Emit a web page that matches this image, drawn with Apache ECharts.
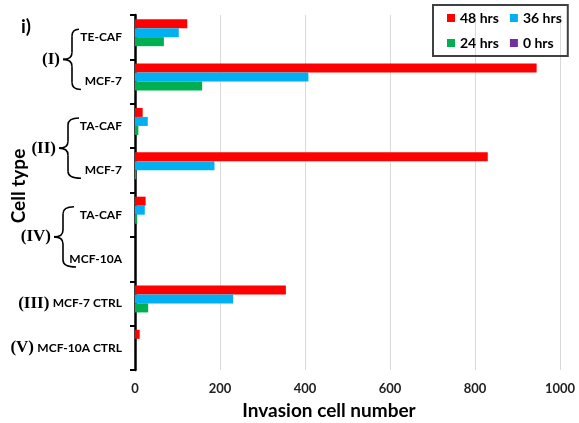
<!DOCTYPE html>
<html>
<head>
<meta charset="utf-8">
<script src="https://cdn.jsdelivr.net/npm/echarts@6/dist/echarts.min.js"></script>
<style>
  html, body { margin: 0; padding: 0; background: #fff; }
  #main { width: 579px; height: 423px; }
</style>
</head>
<body>
<div id="main"></div>
<script>
// categories, top to bottom
var cellTypes = ['TE-CAF', 'MCF-7', 'TA-CAF', 'MCF-7', 'TA-CAF', 'MCF-10A', 'MCF-7 CTRL', 'MCF-10A CTRL'];
// roman group tag written in front of a single label
var labelTags = ['', '', '', '', '', '', '(III)', '(V)'];
// braced groups: tag, first and last category index
var braceGroups = [
    {tag: '(I)', from: 0, to: 1},
    {tag: '(II)', from: 2, to: 3},
    {tag: '(IV)', from: 4, to: 5}
];

var hrs48 = [123, 945, 18, 830, 25, 0, 355, 11];
var hrs36 = [103, 408, 30, 187, 23, 0, 231, 0];
var hrs24 = [68, 158, 8, 3, 5, 0, 31, 0];
var hrs0 = [0, 0, 0, 0, 0, 0, 0, 0];

var xTicks = [0, 200, 400, 600, 800, 1000];

var fontMain = 'Lato, "Open Sans", sans-serif';
var fontRoman = '"Liberation Serif", "DejaVu Serif", serif';

function makeBar(name, color, data) {
    return {
        name: name,
        type: 'bar',
        barWidth: 9,
        barGap: '0%',
        itemStyle: {color: color},
        data: data
    };
}

var option = {
    animation: false,
    title: {
        text: 'i)',
        left: 16,
        top: 12,
        textStyle: {fontFamily: fontMain, fontSize: 19, fontWeight: 'bold', color: '#000'}
    },
    legend: {
        left: 433,
        top: 5,
        width: 122,
        padding: [6, 6, 6, 14],
        itemGap: 11,
        itemWidth: 8,
        itemHeight: 8,
        icon: 'rect',
        borderColor: '#404040',
        borderWidth: 2,
        textStyle: {fontFamily: fontMain, fontSize: 14, fontWeight: 'bold', color: '#000', width: 46},
        data: ['48 hrs', '36 hrs', '24 hrs', '0 hrs']
    },
    grid: {left: 135, right: 19, top: 15, bottom: 53, containLabel: false, outerBoundsMode: 'none'},
    xAxis: {
        type: 'value',
        min: xTicks[0],
        max: xTicks[xTicks.length - 1],
        interval: 200,
        name: 'Invasion cell number',
        nameLocation: 'middle',
        nameGap: 31,
        nameTextStyle: {fontFamily: fontMain, fontSize: 19, fontWeight: 'bold', color: '#000', padding: [0, 37, 0, 0]},
        axisLine: {show: false},
        axisTick: {show: false},
        axisLabel: {
            fontFamily: fontMain, fontSize: 13, fontWeight: 'bold', color: '#222', margin: 12,
            formatter: function (v) { return String(v); }
        },
        splitLine: {lineStyle: {color: '#d9d9d9', width: 1}}
    },
    yAxis: {
        type: 'category',
        inverse: true,
        data: cellTypes,
        axisLine: {lineStyle: {color: '#000', width: 2.5}},
        axisTick: {show: true, inside: false, length: 5, lineStyle: {color: '#000', width: 2}},
        axisLabel: {
            margin: 13,
            formatter: function (value, idx) {
                var tag = labelTags[idx];
                return tag ? '{g|' + tag + '} {c|' + value + '}' : '{c|' + value + '}';
            },
            rich: {
                g: {fontFamily: fontRoman, fontSize: 17, fontWeight: 'bold', color: '#000'},
                c: {fontFamily: fontMain, fontSize: 12, fontWeight: 'bold', color: '#000'}
            }
        },
        splitLine: {show: false}
    },
    series: [
        makeBar('48 hrs', '#ff0000', hrs48),
        makeBar('36 hrs', '#00b0f0', hrs36),
        makeBar('24 hrs', '#00b050', hrs24),
        makeBar('0 hrs', '#7030a0', hrs0)
    ]
};

var chart = echarts.init(document.getElementById('main'));
chart.setOption(option);

// y axis title, curly braces and group tags, placed from the category axis
function sideGraphics() {
    var els = [];
    var stroke = {stroke: '#000', lineWidth: 1.6, fill: null};
    var shifts = [-2, 2, 7];
    els.push({
        type: 'text',
        x: 19,
        y: 186,
        rotation: Math.PI / 2,
        style: {
            text: 'Cell type',
            align: 'center',
            verticalAlign: 'middle',
            font: 'bold 19px ' + fontMain,
            fill: '#000'
        }
    });
    braceGroups.forEach(function (g, i) {
        var yA = chart.convertToPixel({yAxisIndex: 0}, g.from);
        var yB = chart.convertToPixel({yAxisIndex: 0}, g.to);
        var y0 = yA - 8, y1 = yB + 8, ym = (yA + yB) / 2;
        var xe = 79 - (i === 2 ? 5 : 0);
        var xs = 70 - shifts[i];
        var xt = xs - 9;
        var r = 7;
        els.push({type: 'bezierCurve', shape: {x1: xe, y1: y0, cpx1: xs, cpy1: y0, x2: xs, y2: y0 + r}, style: stroke});
        els.push({type: 'line', shape: {x1: xs, y1: y0 + r, x2: xs, y2: ym - r}, style: stroke});
        els.push({type: 'bezierCurve', shape: {x1: xs, y1: ym - r, cpx1: xs, cpy1: ym, x2: xt, y2: ym}, style: stroke});
        els.push({type: 'bezierCurve', shape: {x1: xt, y1: ym, cpx1: xs, cpy1: ym, x2: xs, y2: ym + r}, style: stroke});
        els.push({type: 'line', shape: {x1: xs, y1: ym + r, x2: xs, y2: y1 - r}, style: stroke});
        els.push({type: 'bezierCurve', shape: {x1: xs, y1: y1 - r, cpx1: xs, cpy1: y1, x2: xe + 2, y2: y1}, style: stroke});
        els.push({
            type: 'text',
            x: xt - 3,
            y: ym,
            style: {
                text: g.tag,
                align: 'right',
                verticalAlign: 'middle',
                font: 'bold 17px ' + fontRoman,
                fill: '#000'
            }
        });
    });
    return els;
}

chart.setOption({graphic: sideGraphics()});

window.addEventListener('resize', function () {
    chart.resize();
});
</script>
</body>
</html>
